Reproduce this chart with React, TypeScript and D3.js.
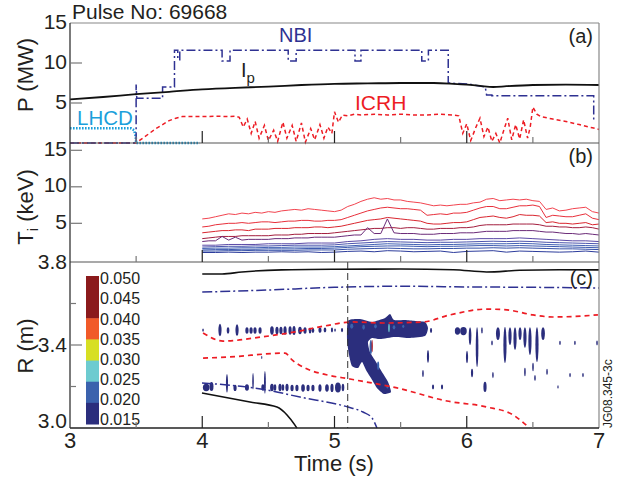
import React from "react";
import * as d3 from "d3";

// ---------- DATA ----------
const pulseTitle = "Pulse No: 69668";
const xTickLabels = [3, 4, 5, 6, 7];
const yTicksA = [5, 10, 15];
const yTicksB = [5, 10, 15];
const yTicksC = [3.0, 3.4, 3.8];
const yMinorC = [3.2, 3.6];

// Panel (a)
const ipData: [number, number][] = [
  [3.0, 5.45], [3.25, 5.75], [3.5, 6.1], [3.75, 6.4], [4.0, 6.7], [4.25, 6.9], [4.5, 7.05],
  [4.75, 7.25], [5.0, 7.4], [5.25, 7.45], [5.5, 7.5], [5.75, 7.5], [5.9, 7.4], [6.0, 7.3],
  [6.1, 7.15], [6.2, 7.0], [6.3, 7.1], [6.5, 7.25], [6.75, 7.3], [7.0, 7.25],
];
const nbiData: [number, number][] = [
  [3.0, 0], [3.5, 0], [3.5, 7.3], [3.505, 5.6], [3.7, 5.6], [3.7, 7.0], [3.79, 7.0], [3.79, 11.6],
  [3.815, 11.6], [3.815, 10.4], [3.83, 10.4], [3.83, 11.6], [4.15, 11.6], [4.15, 10.25], [4.21, 10.25],
  [4.21, 11.6], [4.65, 11.6], [4.65, 10.25], [4.71, 10.25], [4.71, 11.6], [5.155, 11.6], [5.155, 10.25],
  [5.2, 10.25], [5.2, 11.6], [5.66, 11.6], [5.66, 10.25], [5.71, 10.25], [5.71, 11.6], [5.86, 11.6],
  [5.86, 7.5], [6.02, 7.35], [6.14, 7.0], [6.15, 6.0], [6.19, 6.0], [6.19, 5.9], [6.96, 5.9], [6.96, 2.8],
];
const lhcdData: [number, number][] = [
  [3.0, 1.85], [3.46, 1.85], [3.485, 1.6], [3.497, 0.8], [3.5, 0], [3.98, 0],
];
const icrhData: [number, number][] = [
  [3.0, 0], [3.5, 0], [3.55, 0.6], [3.6, 1.2], [3.65, 1.8], [3.7, 2.3], [3.75, 2.8], [3.8, 3.1],
  [3.85, 3.3], [3.9, 3.3], [4.0, 3.3], [4.1, 3.35], [4.2, 3.3], [4.25, 3.35], [4.28, 3.2],
  [4.31, 2.0], [4.34, 3.0], [4.37, 1.2], [4.4, 2.7], [4.43, 0.6], [4.47, 2.2], [4.5, 0.3], [4.54, 1.6],
  [4.57, 0.2], [4.61, 2.6], [4.64, 0.6], [4.68, 2.2], [4.71, 0.2], [4.75, 2.5], [4.78, 0.1], [4.82, 1.8],
  [4.85, 0.4], [4.89, 2.3], [4.92, 0.6], [4.95, 2.0], [4.98, 1.2], [5.0, 3.9], [5.03, 2.6], [5.06, 3.5],
  [5.1, 3.4], [5.15, 3.6], [5.2, 3.5], [5.3, 3.6], [5.4, 3.5], [5.5, 3.6], [5.6, 3.5], [5.7, 3.5],
  [5.8, 3.6], [5.9, 3.5], [5.94, 3.4], [5.97, 1.2], [6.0, 2.4], [6.03, 0.3], [6.07, 2.0], [6.1, 3.1],
  [6.13, 0.8], [6.16, 2.0], [6.19, 0.2], [6.22, 1.2], [6.25, 0.0], [6.28, 1.6], [6.31, 3.1], [6.34, 0.4],
  [6.37, 2.3], [6.4, 0.5], [6.43, 2.9], [6.46, 0.6], [6.48, 2.0], [6.5, 4.5], [6.53, 3.6], [6.56, 3.3],
  [6.65, 3.0], [6.75, 2.7], [6.85, 2.3], [6.95, 1.9], [7.0, 1.7],
];

// Panel (b): Ti channels, t = 4.00 ... 7.00 every 0.05 s (upper five), every 0.1 s (lower six)
const ti1 = [5.6, 5.7, 5.9, 6.1, 6.3, 6.2, 6.4, 6.3, 6.5, 6.4, 6.6, 6.5, 6.7, 6.8, 6.9, 6.8, 7.0, 6.9, 6.8, 6.7, 6.6, 6.8, 7.3, 7.6, 8.0, 8.3, 8.5, 8.3, 8.4, 8.2, 8.2, 8.0, 7.9, 7.8, 7.6, 7.4, 7.5, 7.4, 7.5, 7.6, 7.6, 7.8, 7.9, 8.3, 8.4, 8.1, 8.2, 8.3, 8.2, 8.3, 8.1, 8.0, 6.9, 7.1, 6.7, 6.8, 7.0, 7.1, 7.2, 6.6, 6.4];
const ti2 = [4.5, 4.6, 4.8, 4.9, 5.0, 5.0, 5.1, 5.0, 5.1, 5.2, 5.2, 5.1, 5.2, 5.3, 5.3, 5.4, 5.4, 5.3, 5.3, 5.4, 5.4, 5.5, 5.8, 6.1, 6.4, 6.7, 6.9, 7.1, 7.2, 7.1, 7.0, 7.0, 6.9, 6.8, 6.1, 6.2, 6.3, 6.2, 6.4, 6.4, 6.5, 6.8, 7.1, 7.3, 7.3, 7.0, 7.0, 7.2, 7.4, 7.4, 7.5, 7.3, 5.8, 6.1, 6.0, 5.9, 5.9, 6.1, 6.3, 5.7, 5.5];
const ti3 = [3.7, 3.8, 3.9, 4.0, 4.0, 4.1, 4.1, 4.0, 4.2, 4.2, 4.2, 4.3, 4.3, 4.3, 4.4, 4.4, 4.4, 4.5, 4.5, 4.4, 4.5, 4.6, 4.8, 5.0, 5.2, 5.4, 5.5, 5.6, 5.8, 5.7, 5.6, 5.5, 5.4, 5.3, 5.0, 4.9, 4.9, 5.0, 5.1, 5.1, 5.2, 5.5, 5.8, 5.9, 6.0, 5.8, 5.7, 5.9, 6.2, 6.1, 6.1, 6.0, 5.1, 5.2, 5.0, 5.0, 4.9, 5.0, 5.1, 4.8, 4.9];
const ti4 = [2.9, 3.0, 3.1, 3.2, 3.2, 3.2, 3.3, 3.3, 3.3, 3.3, 3.3, 3.4, 3.4, 3.4, 3.5, 3.5, 3.6, 3.6, 3.6, 3.6, 3.7, 3.8, 3.9, 4.0, 4.1, 4.2, 4.3, 4.3, 4.4, 4.4, 4.3, 4.4, 4.4, 4.3, 4.2, 4.2, 4.3, 4.3, 4.3, 4.4, 4.4, 4.5, 4.7, 4.8, 4.8, 4.8, 4.8, 4.9, 4.9, 4.9, 4.9, 4.8, 4.6, 4.6, 4.5, 4.5, 4.4, 4.4, 4.5, 4.4, 4.2];
const ti5 = [2.5, 2.6, 2.6, 3.2, 2.7, 3.1, 2.7, 2.8, 2.8, 2.8, 2.8, 2.9, 2.9, 2.9, 3.0, 3.0, 3.0, 3.1, 3.1, 3.1, 3.1, 3.2, 3.3, 3.4, 3.4, 4.4, 3.6, 3.6, 5.6, 3.7, 3.6, 3.6, 3.6, 3.5, 3.5, 3.5, 3.6, 3.6, 3.6, 3.7, 3.7, 3.7, 3.8, 3.9, 3.9, 3.9, 3.9, 4.0, 4.0, 4.0, 4.0, 3.9, 3.8, 3.8, 3.7, 3.6, 3.6, 3.5, 3.6, 3.5, 3.4];
const ti6 = [2.0, 2.0, 2.1, 2.1, 2.1, 2.2, 2.2, 2.2, 2.3, 2.3, 2.3, 2.5, 2.6, 2.8, 2.9, 2.8, 2.8, 2.7, 2.7, 2.8, 2.8, 2.9, 2.9, 2.9, 3.0, 2.9, 2.8, 2.7, 2.6, 2.6, 2.5];
const ti7 = [1.75, 1.8, 1.85, 1.85, 1.9, 1.9, 1.95, 2.0, 2.0, 2.0, 2.05, 2.2, 2.3, 2.4, 2.5, 2.45, 2.4, 2.35, 2.4, 2.4, 2.45, 2.5, 2.55, 2.5, 2.55, 2.5, 2.4, 2.35, 2.3, 2.25, 2.2];
const ti8 = [1.55, 1.6, 1.6, 1.65, 1.65, 1.7, 1.7, 1.75, 1.75, 1.75, 1.8, 1.9, 2.0, 2.1, 2.2, 2.15, 2.1, 2.05, 2.1, 2.1, 2.15, 2.2, 2.2, 2.2, 2.25, 2.2, 2.1, 2.05, 2.0, 1.95, 1.9];
const ti9 = [1.35, 1.4, 1.4, 1.45, 1.45, 1.5, 1.5, 1.5, 1.55, 1.55, 1.6, 1.7, 1.8, 1.85, 1.9, 1.9, 1.85, 1.8, 1.85, 1.85, 1.9, 1.95, 1.95, 1.9, 1.95, 1.9, 1.85, 1.8, 1.75, 1.7, 1.65];
const ti10 = [1.2, 1.2, 1.25, 1.25, 1.3, 1.3, 1.3, 1.3, 1.35, 1.35, 1.35, 1.45, 1.5, 1.55, 1.6, 1.55, 1.5, 1.5, 1.55, 1.55, 1.6, 1.6, 1.65, 1.6, 1.65, 1.6, 1.55, 1.5, 1.5, 1.45, 1.4];
const ti11 = [1.0, 1.0, 1.05, 1.0, 1.05, 1.05, 1.1, 1.05, 1.1, 1.0, 1.05, 1.15, 1.2, 1.1, 1.25, 1.2, 1.1, 1.15, 1.2, 1.0, 1.15, 1.2, 1.25, 1.05, 1.2, 1.15, 1.1, 1.05, 1.1, 1.2, 1.05];
const tiSeries = [ti1, ti2, ti3, ti4, ti5, ti6, ti7, ti8, ti9, ti10, ti11];
const tiColors = ["#f2444f", "#e8303b", "#d9262f", "#a31e3e", "#6b2b78", "#5b4aa6", "#4c55ae", "#4262b4", "#3c5ab0", "#3550a8", "#2c3c9c"];

// Panel (c): radii (t [s], R [m])
const rBlackTop: [number, number][] = [[4.0, 3.742], [4.15, 3.742], [4.3, 3.752], [4.6, 3.762], [5.0, 3.765], [5.5, 3.766], [5.9, 3.763], [6.15, 3.752], [6.4, 3.76], [6.7, 3.763], [7.0, 3.762]];
const rBlueTop: [number, number][] = [[4.0, 3.655], [4.5, 3.665], [5.0, 3.678], [5.5, 3.683], [6.0, 3.68], [6.5, 3.678], [7.0, 3.675]];
const rRedUpper: [number, number][] = [[4.006, 3.458], [4.157, 3.419], [4.452, 3.439], [4.701, 3.463], [4.928, 3.492], [5.132, 3.511], [5.367, 3.506], [5.669, 3.511], [5.873, 3.545], [6.153, 3.573], [6.304, 3.569], [6.501, 3.545], [6.652, 3.535], [6.992, 3.545]];
const rRedLower: [number, number][] = [[4.006, 3.337], [4.195, 3.342], [4.626, 3.361], [4.679, 3.328], [4.777, 3.289], [4.951, 3.255], [5.117, 3.236], [5.473, 3.193], [5.851, 3.13], [6.153, 3.101], [6.35, 3.063], [6.456, 3.01]];
const rBlueLower: [number, number][] = [[3.998, 3.217], [4.49, 3.183], [4.739, 3.149], [5.102, 3.101], [5.215, 3.077], [5.284, 3.048], [5.321, 3.0]];
const rBlackLower: [number, number][] = [[3.998, 3.169], [4.361, 3.125], [4.565, 3.101], [4.641, 3.063], [4.701, 3.014], [4.716, 3.0]];
const markerTime = 5.1;

// Fluctuation contours
const mainPatch: [number, number][] = [
  [5.102, 3.516], [5.193, 3.525], [5.284, 3.511], [5.382, 3.53], [5.42, 3.549], [5.45, 3.52], [5.533, 3.52],
  [5.609, 3.516], [5.684, 3.511], [5.707, 3.482], [5.684, 3.443], [5.571, 3.434], [5.457, 3.439], [5.344, 3.429],
  [5.284, 3.434], [5.253, 3.414], [5.268, 3.366], [5.314, 3.318], [5.359, 3.27], [5.405, 3.222], [5.427, 3.173],
  [5.374, 3.164], [5.321, 3.193], [5.276, 3.241], [5.238, 3.28], [5.208, 3.318], [5.178, 3.289], [5.132, 3.299],
  [5.11, 3.352], [5.095, 3.424],
];
// [t, R, half-width (s), half-height (m)]
const navyBlobs: [number, number, number, number][] = [
  [4.006, 3.472, 0.006, 0.008], [4.134, 3.472, 0.012, 0.03], [4.195, 3.47, 0.01, 0.015], [4.263, 3.472, 0.012, 0.028],
  [4.338, 3.47, 0.012, 0.016], [4.369, 3.47, 0.012, 0.016], [4.399, 3.47, 0.012, 0.016], [4.437, 3.47, 0.012, 0.016],
  [4.527, 3.47, 0.014, 0.02], [4.565, 3.47, 0.012, 0.018], [4.595, 3.47, 0.012, 0.018], [4.626, 3.47, 0.012, 0.02],
  [4.664, 3.47, 0.012, 0.02], [4.694, 3.47, 0.012, 0.022], [4.739, 3.47, 0.014, 0.018], [4.777, 3.47, 0.012, 0.016],
  [4.815, 3.47, 0.01, 0.014], [4.837, 3.47, 0.01, 0.012], [4.89, 3.472, 0.012, 0.014], [4.928, 3.472, 0.01, 0.012],
  [4.981, 3.472, 0.008, 0.012], [5.004, 3.472, 0.006, 0.008], [5.057, 3.472, 0.008, 0.01],
  [4.03, 3.195, 0.025, 0.018], [4.07, 3.2, 0.015, 0.022], [4.187, 3.215, 0.008, 0.045], [4.248, 3.193, 0.012, 0.015], [4.338, 3.195, 0.015, 0.016],
  [4.384, 3.225, 0.006, 0.04], [4.459, 3.195, 0.012, 0.016], [4.474, 3.22, 0.007, 0.055], [4.527, 3.195, 0.014, 0.018],
  [4.55, 3.195, 0.01, 0.016], [4.588, 3.195, 0.012, 0.018], [4.61, 3.195, 0.01, 0.016], [4.641, 3.195, 0.012, 0.018],
  [4.679, 3.193, 0.012, 0.016], [4.716, 3.193, 0.012, 0.016], [4.762, 3.193, 0.014, 0.018], [4.8, 3.193, 0.012, 0.016],
  [4.837, 3.193, 0.012, 0.016], [4.89, 3.193, 0.012, 0.018], [4.943, 3.193, 0.014, 0.018], [4.981, 3.193, 0.012, 0.02],
  [5.026, 3.195, 0.022, 0.024], [5.064, 3.195, 0.01, 0.018], [4.45, 3.34, 0.004, 0.008],
  [5.73, 3.47, 0.008, 0.012], [5.93, 3.467, 0.02, 0.018], [5.975, 3.467, 0.025, 0.02], [6.025, 3.443, 0.01, 0.043],
  [6.078, 3.39, 0.01, 0.096], [6.115, 3.47, 0.006, 0.015], [6.191, 3.41, 0.006, 0.012], [6.236, 3.455, 0.015, 0.031],
  [6.289, 3.4, 0.012, 0.087], [6.327, 3.443, 0.012, 0.043], [6.365, 3.431, 0.012, 0.055], [6.403, 3.455, 0.012, 0.031],
  [6.44, 3.436, 0.012, 0.05], [6.478, 3.419, 0.012, 0.067], [6.531, 3.402, 0.012, 0.084], [6.577, 3.455, 0.014, 0.031],
  [5.707, 3.345, 0.008, 0.031], [5.669, 3.263, 0.006, 0.017], [5.745, 3.198, 0.008, 0.012], [5.813, 3.198, 0.008, 0.012],
  [6.138, 3.198, 0.012, 0.025], [6.002, 3.342, 0.008, 0.03], [6.04, 3.265, 0.008, 0.02], [6.198, 3.255, 0.006, 0.015],
  [6.44, 3.27, 0.006, 0.02], [6.501, 3.294, 0.006, 0.02], [6.516, 3.241, 0.006, 0.015], [6.607, 3.27, 0.006, 0.015],
  [6.705, 3.41, 0.006, 0.01], [6.818, 3.41, 0.006, 0.01], [6.985, 3.41, 0.006, 0.012], [6.781, 3.255, 0.006, 0.01],
  [6.879, 3.255, 0.006, 0.01], [6.69, 3.198, 0.005, 0.008],
];
const blueBlobs: [number, number, number, number][] = [
  [5.13, 3.49, 0.012, 0.012], [5.22, 3.485, 0.01, 0.012], [5.31, 3.49, 0.01, 0.01], [5.45, 3.485, 0.01, 0.01],
  [5.52, 3.49, 0.008, 0.008], [5.275, 3.39, 0.01, 0.035], [5.33, 3.3, 0.008, 0.02], [5.4, 3.2, 0.008, 0.01],
];
const cyanBlobs: [number, number, number, number][] = [[5.412, 3.482, 0.006, 0.02]];
const redBlobs: [number, number, number, number][] = [[5.285, 3.395, 0.005, 0.03]];

const legendBounds = [0.05, 0.04, 0.035, 0.03, 0.025, 0.02, 0.015];
const legendColors = ["#8b1a1c", "#f15a29", "#d7df23", "#6dcbd0", "#3b62ad", "#2b2e7d"];
const legendLabels = ["0.050", "0.045", "0.040", "0.035", "0.030", "0.025", "0.020", "0.015"];

// ---------- LAYOUT ----------
const W = 621, H = 484;
const X0 = 70, X1 = 599;
const A_TOP = 23, A_BOT = 143, B_BOT = 262, C_BOT = 428;
const FONT = "'Liberation Sans', Arial, Helvetica, sans-serif";
const TXT = "#231f20";

const x = d3.scaleLinear().domain([3, 7]).range([X0, X1]);
const yA = d3.scaleLinear().domain([0, 15]).range([A_BOT, A_TOP]);
const yB = d3.scaleLinear().domain([-0.3, 16]).range([B_BOT, A_BOT]);
const yC = d3.scaleLinear().domain([3.0, 3.8]).range([C_BOT, B_BOT]);
const yLeg = d3.scaleLinear().domain([0.05, 0.015]).range([276, 424]);
const yLegLab = d3.scaleLinear().domain([0.05, 0.015]).range([280, 421]);

const fineT = d3.range(61).map((i) => 4 + i * 0.05);
const coarseT = d3.range(31).map((i) => 4 + i * 0.1);

const lineA = d3.line<[number, number]>().x((d) => x(d[0])).y((d) => yA(d[1]));
const smoothA = d3.line<[number, number]>().x((d) => x(d[0])).y((d) => yA(d[1])).curve(d3.curveMonotoneX);
const lineC = d3.line<[number, number]>().x((d) => x(d[0])).y((d) => yC(d[1])).curve(d3.curveMonotoneX);
const patchLine = d3.line<[number, number]>().x((d) => x(d[0])).y((d) => yC(d[1])).curve(d3.curveCardinalClosed.tension(0.4));

const tiPath = (vals: number[]) => {
  const ts = vals.length === 61 ? fineT : coarseT;
  return d3.line<number>().x((_, i) => x(ts[i])).y((v) => yB(v))(vals) || "";
};

const blobs = (arr: [number, number, number, number][], color: string, key: string) =>
  arr.map((b, i) => (
    <ellipse key={key + i} cx={x(b[0])} cy={yC(b[1])} rx={x(b[0] + b[2]) - x(b[0])} ry={yC(b[1] - b[3]) - yC(b[1])} fill={color} />
  ));

const xMinor = d3.range(3.5, 7, 0.5);

export default function App() {
  const xTicks = (bottom: number) =>
    xMinor.map((t) => {
      const major = Math.abs(t - Math.round(t)) < 1e-6;
      return <line key={"xt" + bottom + t} x1={x(t)} x2={x(t)} y1={bottom} y2={bottom - (major ? 12 : 6)} stroke={major ? "#222" : "#777"} strokeWidth={1.2} />;
    });

  return (
    <svg width={W} height={H} style={{ position: "absolute", left: 0, top: 0, background: "#fff" }} fontFamily={FONT}>
      {/* Title */}
      <text x={72} y={19} fontSize={21} fill={TXT}>{pulseTitle}</text>

      {/* ---- Panel (a) ---- */}
      <path d={lineA(icrhData) || ""} fill="none" stroke="#ed1c24" strokeWidth={1.5} strokeDasharray="4,3" />
      <path d={lineA(lhcdData) || ""} fill="none" stroke="#1b9fdb" strokeWidth={2.6} strokeDasharray="1.6,1.4" />
      <path d={lineA(nbiData) || ""} fill="none" stroke="#2e3192" strokeWidth={1.5} strokeDasharray="9,3,2,3" />
      <path d={smoothA(ipData) || ""} fill="none" stroke="#111" strokeWidth={1.8} />
      <text x={279} y={42} fontSize={20} fill="#2e3192">NBI</text>
      <text x={355} y={110} fontSize={21} fill="#ed1c24">ICRH</text>
      <text x={77} y={125} fontSize={20.5} fill="#1b9fdb">LHCD</text>
      <text x={241} y={77} fontSize={20} fill={TXT}>I<tspan fontSize={15} dy={6}>p</tspan></text>
      <text x={593} y={43} fontSize={20} fill={TXT} textAnchor="end">(a)</text>

      {/* ---- Panel (b) ---- */}
      {tiSeries.map((s, i) => (
        <path key={"ti" + i} d={tiPath(s)} fill="none" stroke={tiColors[i]} strokeWidth={1} />
      ))}
      <text x={593} y={163} fontSize={20} fill={TXT} textAnchor="end">(b)</text>

      {/* ---- Panel (c) ---- */}
      <path d={patchLine(mainPatch) || ""} fill="#2b2e7d" />
      {blobs(navyBlobs, "#2b2e7d", "nb")}
      {blobs(blueBlobs, "#3b62ad", "bb")}
      {blobs(cyanBlobs, "#6dcbd0", "cb")}
      {blobs(redBlobs, "#b3202a", "rb")}
      <path d={lineC(rBlackTop) || ""} fill="none" stroke="#111" strokeWidth={1.6} />
      <path d={lineC(rBlueTop) || ""} fill="none" stroke="#2e3192" strokeWidth={1.5} strokeDasharray="10,3,2,3" />
      <path d={lineC(rRedUpper) || ""} fill="none" stroke="#ed1c24" strokeWidth={1.7} strokeDasharray="5,4" />
      <path d={lineC(rRedLower) || ""} fill="none" stroke="#ed1c24" strokeWidth={1.7} strokeDasharray="5,4" />
      <path d={lineC(rBlueLower) || ""} fill="none" stroke="#2e3192" strokeWidth={1.5} strokeDasharray="10,3,2,3" />
      <path d={lineC(rBlackLower) || ""} fill="none" stroke="#111" strokeWidth={1.6} />
      <line x1={x(markerTime)} x2={x(markerTime)} y1={B_BOT} y2={C_BOT} stroke="#333" strokeWidth={1} strokeDasharray="7,4" />
      <text x={593} y={285} fontSize={20} fill={TXT} textAnchor="end">(c)</text>

      {/* Colour bar */}
      {legendColors.map((c, i) => (
        <rect key={"lg" + i} x={86} y={yLeg(legendBounds[i])} width={13} height={yLeg(legendBounds[i + 1]) - yLeg(legendBounds[i]) + 0.5} fill={c} />
      ))}
      {legendLabels.map((l, i) => (
        <text key={"ll" + i} x={100} y={yLegLab(+l)} fontSize={16} fill={TXT} dominantBaseline="middle">{l}</text>
      ))}

      {/* ---- Frames ---- */}
      <line x1={X0} x2={X1} y1={A_TOP} y2={A_TOP} stroke="#888" strokeWidth={1.2} />
      <line x1={X1} x2={X1} y1={A_TOP} y2={C_BOT} stroke="#888" strokeWidth={1.2} />
      <line x1={X0} x2={X1} y1={A_BOT} y2={A_BOT} stroke="#555" strokeWidth={1.2} />
      <line x1={X0} x2={X1} y1={B_BOT} y2={B_BOT} stroke="#555" strokeWidth={1.2} />
      <line x1={X0} x2={X1} y1={C_BOT} y2={C_BOT} stroke="#222" strokeWidth={1.3} />
      <line x1={X0} x2={X0} y1={A_TOP} y2={C_BOT} stroke="#333" strokeWidth={1.3} />
      {xTicks(A_BOT)}
      {xTicks(B_BOT)}
      {xTicks(C_BOT)}

      {/* Y ticks + labels */}
      {yTicksA.map((v) => (
        <g key={"ya" + v}>
          {v < 15 && <line x1={X0} x2={X0 + 12} y1={yA(v)} y2={yA(v)} stroke="#777" strokeWidth={1.2} />}
          <text x={67} y={yA(v)} fontSize={21} fill={TXT} textAnchor="end" dominantBaseline="middle">{v}</text>
        </g>
      ))}
      {yTicksB.map((v) => (
        <g key={"yb" + v}>
          <line x1={X0} x2={X0 + 12} y1={yB(v)} y2={yB(v)} stroke="#777" strokeWidth={1.2} />
          <text x={67} y={yB(v)} fontSize={21} fill={TXT} textAnchor="end" dominantBaseline="middle">{v}</text>
        </g>
      ))}
      {yTicksC.map((v) => (
        <g key={"yc" + v}>
          {v > 3.0 && v < 3.8 && <line x1={X0} x2={X0 + 12} y1={yC(v)} y2={yC(v)} stroke="#777" strokeWidth={1.2} />}
          <text x={67} y={v === 3.0 ? yC(v) - 6 : yC(v) + 1} fontSize={21} fill={TXT} textAnchor="end" dominantBaseline="middle">{v.toFixed(1)}</text>
        </g>
      ))}
      {yMinorC.map((v) => (
        <line key={"ycm" + v} x1={X0} x2={X0 + 6} y1={yC(v)} y2={yC(v)} stroke="#777" strokeWidth={1.2} />
      ))}

      {/* X tick labels */}
      {xTickLabels.map((t) => (
        <text key={"xl" + t} x={x(t)} y={448} fontSize={22} fill={TXT} textAnchor="middle">{t}</text>
      ))}
      <text x={334} y={471} fontSize={22} fill={TXT} textAnchor="middle">Time (s)</text>

      {/* Axis titles */}
      <text transform={`translate(33,${(A_TOP + A_BOT) / 2 - 8}) rotate(-90)`} fontSize={22} fill={TXT} textAnchor="middle">P (MW)</text>
      <text transform={`translate(33,207) rotate(-90)`} fontSize={22} fill={TXT} textAnchor="middle">T<tspan fontSize={15} dy={5}>i</tspan><tspan dy={-5}> (keV)</tspan></text>
      <text transform={`translate(33,346) rotate(-90)`} fontSize={22} fill={TXT} textAnchor="middle">R (m)</text>

      {/* Figure code */}
      <text transform={`translate(612,428) rotate(-90)`} fontSize={12} fill={TXT}>JG08.345-3c</text>
    </svg>
  );
}
